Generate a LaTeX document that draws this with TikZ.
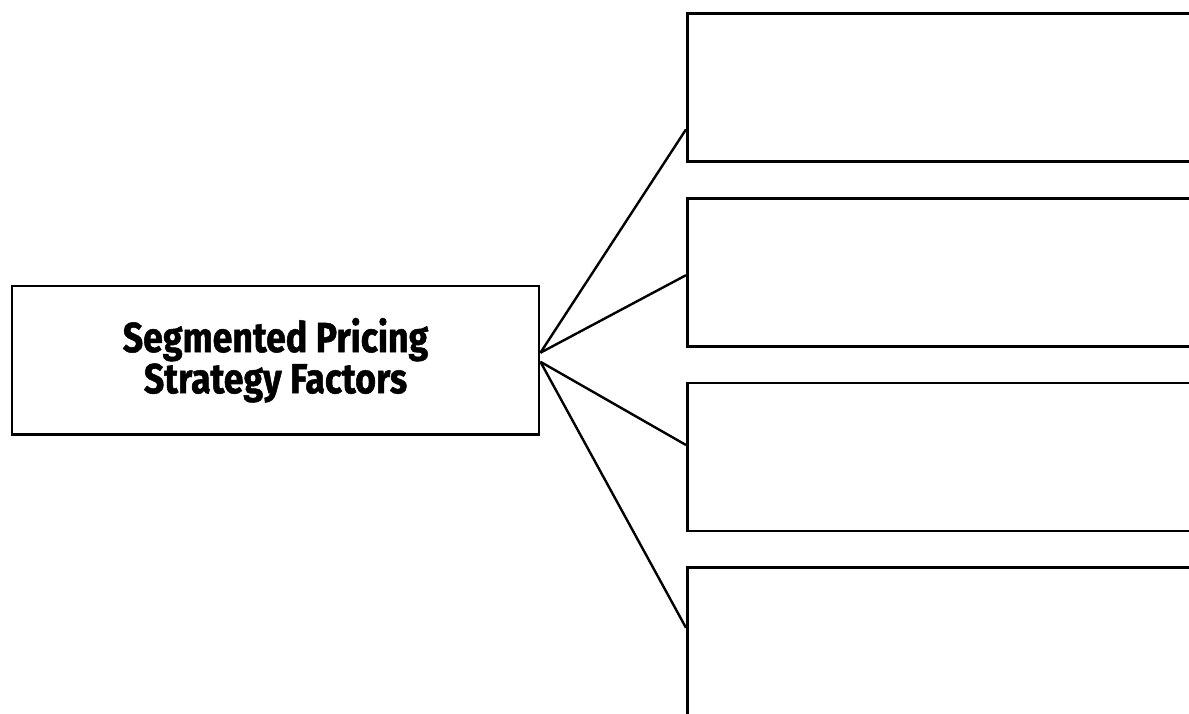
\documentclass[tikz,border=0pt]{standalone}
\usepackage{fontspec}
\setmainfont{Fira Sans}[FakeStretch=0.85, BoldFeatures={FakeBold=1.2}]
\usetikzlibrary{positioning}

\begin{document}
\begin{tikzpicture}[x=0.5pt,y=-0.5pt,
    factorbox/.style={draw, line width=1.4pt, minimum width=263.5pt, minimum height=74.25pt, inner sep=0pt, align=center, font=\bfseries\fontsize{21}{19.5}\selectfont},
    itembox/.style={draw, line width=1.4pt, minimum width=300pt, minimum height=74pt, inner sep=0pt},
    link/.style={line width=1.2pt}]
        % Frame
        \useasboundingbox (0,0) rectangle (1189,713);
        \clip (0,0) rectangle (1189,713);
        
        % Main box
        \node[factorbox] (factors) at (275.5,360.25) {Segmented Pricing\\Strategy Factors};
        
        % Factor boxes
        \node[itembox, anchor=north west] (item1) at (686,12) {};
        \node[itembox, below=17pt of item1] (item2) {};
        \node[itembox, below=17pt of item2] (item3) {};
        \node[itembox, below=17pt of item3] (item4) {};
        
        % Links
        \coordinate (upper) at ([yshift=3.75pt]factors.east);
        \coordinate (lower) at ([yshift=-0.75pt]factors.east);
        \draw[link] (upper) -- ([yshift=-21pt]item1.west);
        \draw[link] (upper) -- ([yshift=-1.5pt]item2.west);
        \draw[link] (lower) -- ([yshift=6pt]item3.west);
        \draw[link] (lower) -- ([yshift=7pt]item4.west);
    \end{tikzpicture}
\end{document}
